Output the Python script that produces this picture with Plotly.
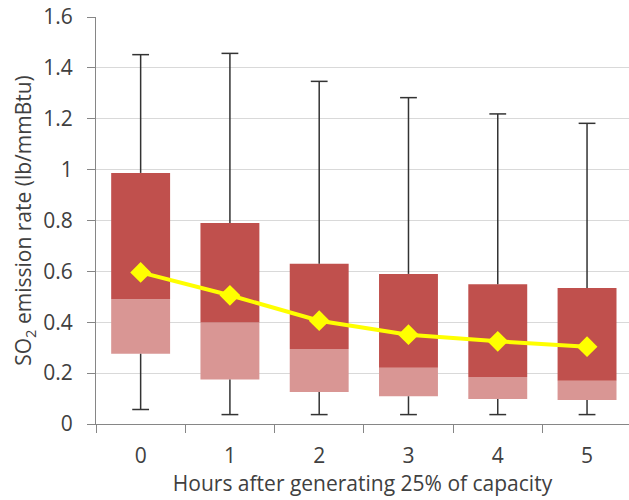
import plotly.graph_objects as go

hours = ["0", "1", "2", "3", "4", "5"]
whisker_min = [0.057, 0.037, 0.037, 0.037, 0.037, 0.037]
q1 = [0.276, 0.175, 0.126, 0.109, 0.098, 0.094]
median = [0.490, 0.399, 0.295, 0.221, 0.185, 0.170]
q3 = [0.987, 0.790, 0.630, 0.590, 0.549, 0.535]
whisker_max = [1.452, 1.457, 1.347, 1.283, 1.219, 1.182]
mean = [0.596, 0.506, 0.406, 0.351, 0.325, 0.304]

FONT = "Open Sans"
WHISKER = "#333333"
fig = go.Figure()

fig.add_trace(go.Bar(
    x=hours, y=[m - a for m, a in zip(median, q1)], base=q1,
    width=0.66, marker=dict(color="#D99694", line=dict(width=0)),
    showlegend=False, hoverinfo="skip"))
fig.add_trace(go.Bar(
    x=hours, y=[b - m for b, m in zip(q3, median)], base=median,
    width=0.66, marker=dict(color="#C0504D", line=dict(width=0)),
    showlegend=False, hoverinfo="skip"))

# whisker stems
wx, wy = [], []
for h, lo, a, b, hi in zip(hours, whisker_min, q1, q3, whisker_max):
    wx += [h, h, None, h, h, None]
    wy += [lo, a, None, b, hi, None]
fig.add_trace(go.Scatter(
    x=wx, y=wy, mode="lines", line=dict(color=WHISKER, width=1.5),
    showlegend=False, hoverinfo="skip"))
# whisker caps
fig.add_trace(go.Scatter(
    x=hours + hours, y=whisker_min + whisker_max, mode="markers",
    marker=dict(symbol="line-ew", size=12, color=WHISKER,
                line=dict(color=WHISKER, width=1.5)),
    showlegend=False, hoverinfo="skip"))

fig.add_trace(go.Scatter(
    x=hours, y=mean, mode="lines+markers",
    line=dict(color="#FFFF00", width=4),
    marker=dict(symbol="diamond", size=16, color="#FFFF00"),
    showlegend=False))

fig.update_layout(
    width=629, height=500, barmode="overlay",
    margin=dict(l=96, r=0, t=17, b=76, autoexpand=False),
    plot_bgcolor="white", paper_bgcolor="white",
    font=dict(family=FONT, size=21, color="#404040"),
    xaxis=dict(type="category", range=[-0.5, 5.47], tickson="boundaries",
               ticks="outside", ticklen=8, tickcolor="#868686",
               showline=True, linecolor="#868686", linewidth=1,
               showgrid=False, tickfont=dict(size=21), automargin=False,
               ticklabelstandoff=13,
               title=dict(text="Hours after generating 25% of capacity",
                          font=dict(size=21), standoff=0)),
    yaxis=dict(range=[0, 1.6], dtick=0.2, tickformat="~g",
               ticks="outside", ticklen=8, tickcolor="#868686",
               showline=True, linecolor="#868686", linewidth=1,
               showgrid=True, gridcolor="#D9D9D9", gridwidth=1,
               zeroline=False, tickfont=dict(size=21), automargin=False,
               ticklabelstandoff=10,
               title=dict(text="SO<sub>2</sub> emission rate (lb/mmBtu)",
                          font=dict(size=21), standoff=5)),
)

fig.write_html("out.html", config={"displayModeBar": False},
               post_script="document.body.style.margin='0';document.body.style.padding='0';")
